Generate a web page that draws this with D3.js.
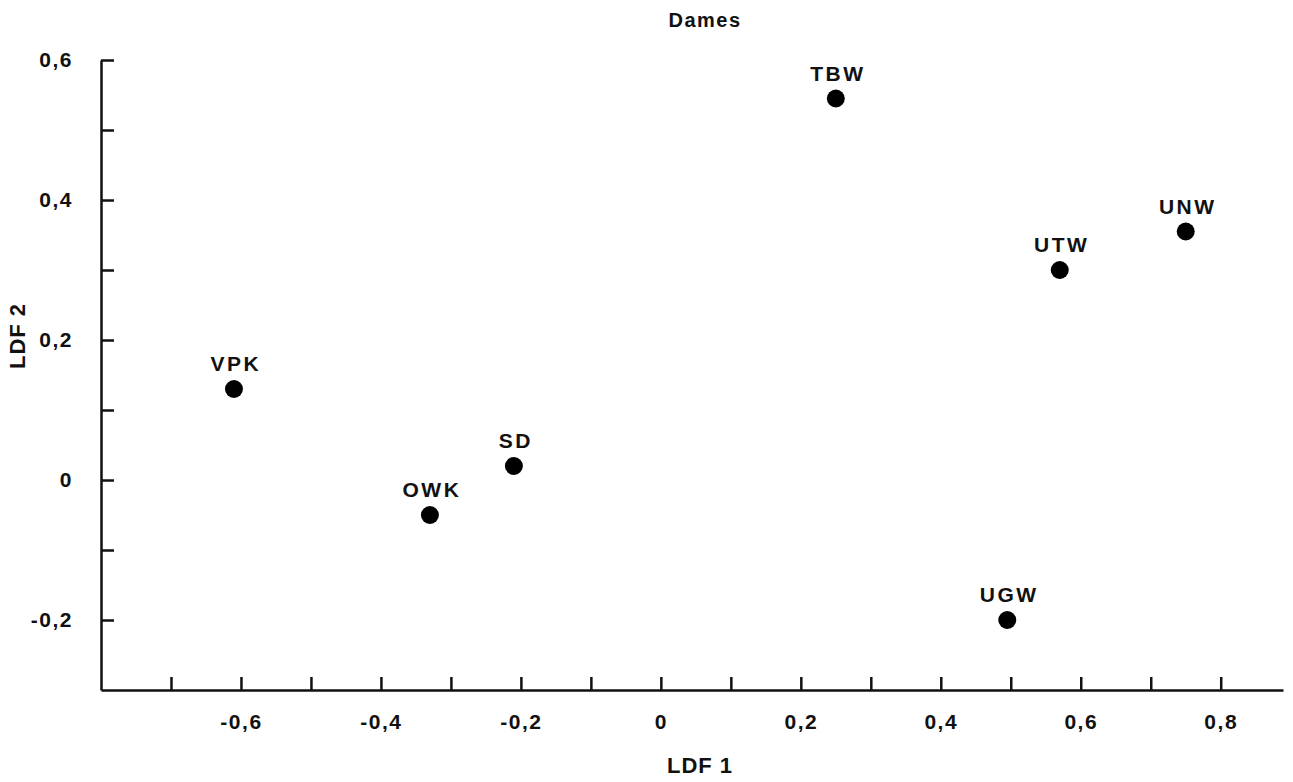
<!DOCTYPE html>
<html>
<head>
<meta charset="utf-8">
<script src="https://cdn.jsdelivr.net/npm/d3@7"></script>
<style>
    body { margin: 0; background: #fff; }
    svg { display: block; font-family: "Liberation Sans", Arial, Helvetica, sans-serif; }
    .axis path, .axis line { stroke: #111; stroke-width: 2.5; }
    .axis text { font-family: "Liberation Sans", Arial, Helvetica, sans-serif; font-size: 21px; font-weight: bold; fill: #111; letter-spacing: 1.5px; }
    .axis-label { font-size: 22px; font-weight: bold; fill: #111; letter-spacing: 1px; }
    .title { font-size: 20px; font-weight: bold; fill: #111; letter-spacing: 1.5px; }
    .point-label { font-size: 21px; font-weight: bold; fill: #111; letter-spacing: 2.5px; }
</style>
</head>
<body>
<div id="chart"></div>
<script>
// group codes and their discriminant scores
const groups = ['VPK', 'OWK', 'SD', 'TBW', 'UTW', 'UNW', 'UGW'];
const ldf1 = [-0.61, -0.33, -0.21, 0.25, 0.57, 0.75, 0.495];
const ldf2 = [0.13, -0.05, 0.02, 0.545, 0.30, 0.355, -0.20];

const xMajorTicks = [-0.6, -0.4, -0.2, 0, 0.2, 0.4, 0.6, 0.8];
const xMinorTicks = [-0.7, -0.5, -0.3, -0.1, 0.1, 0.3, 0.5, 0.7];
const yMajorTicks = [-0.2, 0, 0.2, 0.4, 0.6];
const yMinorTicks = [-0.1, 0.1, 0.3, 0.5];

function createScatter() {
    const container = d3.select('#chart');
    container.selectAll('*').remove();

    const width = 1293;
    const height = 782;
    const margin = { top: 60, right: 10, bottom: 92, left: 101 };

    const svg = container.append('svg')
        .attr('width', width)
        .attr('height', height);

    const xScale = d3.scaleLinear()
        .domain([-0.8, 0.889])
        .range([margin.left, width - margin.right]);

    const yScale = d3.scaleLinear()
        .domain([-0.3, 0.6])
        .range([height - margin.bottom, margin.top]);

    const fmt = d => d === 0 ? '0' : d3.format('.1f')(d).replace('.', ',').replace('−', '-');

    // X axis: major ticks with labels, minor ticks without
    svg.append('g')
        .attr('class', 'axis x-axis')
        .attr('transform', `translate(0, ${yScale.range()[0]})`)
        .call(d3.axisBottom(xScale)
            .tickValues(xMajorTicks)
            .tickFormat(fmt)
            .tickSizeInner(-13)
            .tickSizeOuter(0)
            .tickPadding(24));

    svg.append('g')
        .attr('class', 'axis x-minor')
        .attr('transform', `translate(0, ${yScale.range()[0]})`)
        .call(d3.axisBottom(xScale)
            .tickValues(xMinorTicks)
            .tickFormat('')
            .tickSizeInner(-13)
            .tickSizeOuter(0))
        .select('.domain').remove();

    // Y axis
    svg.append('g')
        .attr('class', 'axis y-axis')
        .attr('transform', `translate(${xScale.range()[0]}, 0)`)
        .call(d3.axisLeft(yScale)
            .tickValues(yMajorTicks)
            .tickFormat(fmt)
            .tickSizeInner(-13)
            .tickSizeOuter(0)
            .tickPadding(28));

    svg.append('g')
        .attr('class', 'axis y-minor')
        .attr('transform', `translate(${xScale.range()[0]}, 0)`)
        .call(d3.axisLeft(yScale)
            .tickValues(yMinorTicks)
            .tickFormat('')
            .tickSizeInner(-13)
            .tickSizeOuter(0))
        .select('.domain').remove();

    // Title and axis labels
    svg.append('text')
        .attr('class', 'title')
        .attr('x', 705)
        .attr('y', 27)
        .style('text-anchor', 'middle')
        .text('Dames');

    svg.append('text')
        .attr('class', 'axis-label')
        .attr('x', 700)
        .attr('y', 773)
        .style('text-anchor', 'middle')
        .text('LDF 1');

    svg.append('text')
        .attr('class', 'axis-label')
        .attr('transform', 'translate(25, 336) rotate(-90)')
        .style('text-anchor', 'middle')
        .text('LDF 2');

    // Points
    const data = groups.map((g, i) => ({ name: g, x: ldf1[i], y: ldf2[i] }));

    svg.selectAll('.point')
        .data(data)
        .enter()
        .append('circle')
        .attr('class', 'point')
        .attr('cx', d => xScale(d.x))
        .attr('cy', d => yScale(d.y))
        .attr('r', 9)
        .attr('fill', '#000');

    svg.selectAll('.point-label')
        .data(data)
        .enter()
        .append('text')
        .attr('class', 'point-label')
        .attr('x', d => xScale(d.x) + 2)
        .attr('y', d => yScale(d.y) - 18)
        .style('text-anchor', 'middle')
        .text(d => d.name);
}

createScatter();
</script>
</body>
</html>
